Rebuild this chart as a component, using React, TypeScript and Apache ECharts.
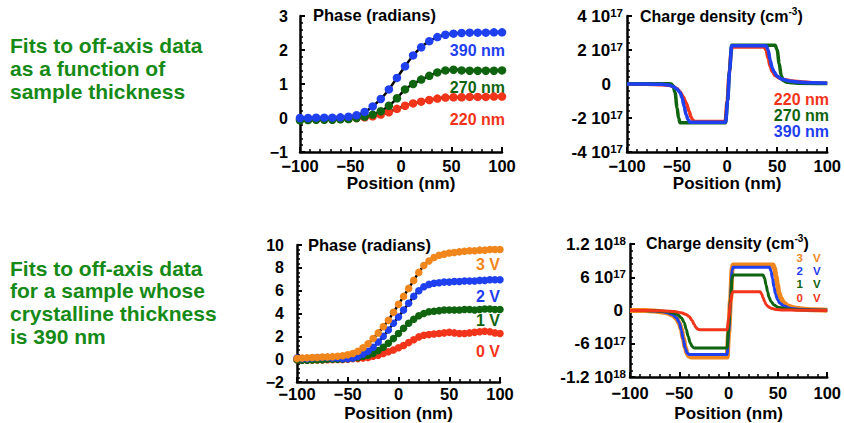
import React, { useEffect, useRef } from 'react';
import * as echarts from 'echarts';

const RED = '#f2341a';
const BLUE = '#1f40f0';
const GREEN = '#0f640f';
const ORANGE = '#f0861c';
const TEXT_GREEN = '#168a16';
const FONT = '"Liberation Sans", Arial, Helvetica, sans-serif';

// Panel 1: phase vs position for three thicknesses
const posX1 = [-100, -92, -84, -76, -68, -60, -52, -44, -36, -28, -20, -12, -4, 4, 12, 20, 28, 36, 44, 52, 60, 68, 76, 84, 92, 100];
const phase390 = [0.0, 0.0, 0.01, 0.01, 0.01, 0.02, 0.04, 0.08, 0.18, 0.34, 0.56, 0.84, 1.18, 1.52, 1.84, 2.08, 2.26, 2.38, 2.45, 2.48, 2.5, 2.51, 2.51, 2.51, 2.52, 2.52];
const phase270 = [-0.07, -0.06, -0.05, -0.05, -0.05, -0.04, -0.03, 0.0, 0.04, 0.1, 0.2, 0.36, 0.58, 0.84, 1.0, 1.13, 1.24, 1.34, 1.4, 1.42, 1.4, 1.39, 1.39, 1.39, 1.39, 1.4];
const phase220 = [-0.03, -0.03, -0.03, -0.03, -0.02, -0.02, -0.01, 0.0, 0.02, 0.05, 0.1, 0.17, 0.27, 0.36, 0.43, 0.48, 0.53, 0.57, 0.6, 0.61, 0.61, 0.62, 0.62, 0.62, 0.63, 0.63];

// Panel 2: charge density (units of 1e17 cm^-3)
const rho220 = [[-100, 0], [-80, -0.02], [-65, -0.05], [-58, -0.08], [-54, -0.15], [-50, -0.28], [-47, -0.45], [-44, -0.75], [-41, -1.1], [-38, -1.6], [-36, -1.95], [-34, -2.15], [-32, -2.2], [-2, -2.2], [0, -1.0], [2, 0.6], [4, 1.9], [5, 2.18], [37, 2.18], [39, 2.0], [41, 1.5], [43, 1.05], [45, 0.75], [48, 0.5], [52, 0.35], [58, 0.25], [65, 0.18], [75, 0.12], [85, 0.08], [100, 0.05]];
const rho270 = [[-100, 0.02], [-80, 0.02], [-60, 0.02], [-56, 0], [-54, -0.1], [-52, -0.5], [-50, -1.4], [-48.5, -2.0], [-47, -2.28], [-1.5, -2.28], [0.5, -1.0], [2.5, 0.8], [4.5, 2.28], [48, 2.28], [50, 2.0], [52, 1.2], [54, 0.5], [56, 0.2], [60, 0.1], [70, 0.05], [100, 0.03]];
const rho390 = [[-100, 0], [-80, 0], [-65, -0.02], [-58, -0.06], [-54, -0.14], [-50, -0.3], [-47, -0.5], [-45, -0.8], [-43, -1.3], [-41, -1.8], [-39, -2.1], [-37, -2.25], [-1.5, -2.25], [0.5, -1.0], [2.5, 0.8], [4.5, 2.25], [39, 2.25], [41, 2.0], [43, 1.4], [45, 0.95], [47, 0.7], [50, 0.45], [55, 0.28], [62, 0.18], [70, 0.12], [85, 0.07], [100, 0.05]];

// Panel 3: phase vs position for four biases
const posX3 = [-100, -95, -90, -85, -80, -75, -70, -65, -60, -55, -50, -45, -40, -35, -30, -25, -20, -15, -10, -5, 0, 5, 10, 15, 20, 25, 30, 35, 40, 45, 50, 55, 60, 65, 70, 75, 80, 85, 90, 95, 100];
const phase3V = [0.05, 0.1, 0.12, 0.15, 0.15, 0.18, 0.2, 0.22, 0.25, 0.3, 0.38, 0.5, 0.7, 1.0, 1.35, 1.8, 2.3, 2.85, 3.4, 4.1, 4.8, 5.5, 6.2, 6.9, 7.6, 8.2, 8.6, 8.9, 9.1, 9.2, 9.3, 9.35, 9.4, 9.45, 9.5, 9.5, 9.55, 9.55, 9.6, 9.6, 9.6];
const phase2V = [0.1, 0.05, 0.05, 0.1, 0.15, 0.15, 0.15, 0.1, 0.1, 0.05, 0.05, 0.1, 0.25, 0.45, 0.7, 1.05, 1.5, 2.0, 2.55, 3.15, 3.7, 4.3, 4.9, 5.5, 6.0, 6.35, 6.55, 6.65, 6.7, 6.75, 6.75, 6.8, 6.8, 6.85, 6.85, 6.85, 6.9, 6.9, 6.95, 6.95, 6.95];
const phase1V = [-0.05, -0.1, -0.1, -0.08, -0.05, -0.05, 0, 0, 0, 0.02, 0.05, 0.1, 0.15, 0.25, 0.35, 0.5, 0.75, 1.05, 1.4, 1.8, 2.25, 2.7, 3.15, 3.5, 3.8, 4.0, 4.15, 4.2, 4.25, 4.3, 4.3, 4.3, 4.3, 4.35, 4.35, 4.3, 4.35, 4.4, 4.4, 4.35, 4.35];
const phase0V = [-0.05, -0.1, -0.1, -0.08, -0.08, -0.06, -0.05, -0.04, -0.03, -0.02, 0.0, 0.05, 0.05, 0.1, 0.15, 0.25, 0.35, 0.5, 0.65, 0.8, 1.0, 1.2, 1.45, 1.7, 1.95, 2.1, 2.15, 2.2, 2.25, 2.3, 2.35, 2.3, 2.25, 2.25, 2.3, 2.35, 2.4, 2.45, 2.4, 2.3, 2.25];

// Panel 4: charge density (units of 1e17 cm^-3)
const rho3V = [[-100, 0], [-85, 0], [-75, -0.1], [-68, -0.25], [-62, -0.45], [-57, -0.8], [-53, -1.4], [-50, -2.3], [-48, -3.4], [-46, -5.0], [-44, -6.6], [-42, -7.8], [-40, -8.3], [-38, -8.4], [-1.5, -8.4], [0, -4], [2, 2], [3.5, 7.5], [4.5, 8.2], [45, 8.2], [46.5, 7.6], [48, 6.2], [49.5, 4.6], [51, 3.2], [53, 2.2], [56, 1.4], [60, 0.8], [67, 0.45], [75, 0.25], [85, 0.12], [100, 0.05]];
const rho2V = [[-100, 0], [-85, 0], [-75, -0.08], [-68, -0.2], [-62, -0.4], [-57, -0.7], [-53, -1.3], [-50, -2.2], [-48, -3.5], [-46, -5.2], [-44, -6.8], [-42, -7.7], [-40, -7.95], [-1.5, -7.95], [0, -4], [2, 2], [3.5, 7.2], [4.5, 7.8], [41.5, 7.8], [43, 7.1], [44.5, 5.8], [46, 4.2], [47.5, 3.0], [49.5, 2.0], [52, 1.3], [56, 0.8], [62, 0.4], [70, 0.22], [85, 0.1], [100, 0.05]];
const rho1V = [[-100, 0], [-85, 0], [-75, -0.05], [-65, -0.15], [-58, -0.35], [-52, -0.7], [-48, -1.3], [-45, -2.2], [-43, -3.4], [-41, -4.7], [-39, -5.8], [-37, -6.5], [-35, -6.75], [-1.5, -6.75], [0, -3], [2, 2], [3.5, 5.8], [4.5, 6.4], [35, 6.4], [36.5, 5.8], [38, 4.6], [39.5, 3.4], [41, 2.4], [43, 1.6], [46, 1.0], [50, 0.6], [57, 0.3], [67, 0.15], [80, 0.07], [100, 0.03]];
const rho0V = [[-100, 0], [-85, 0], [-75, -0.03], [-65, -0.08], [-55, -0.2], [-48, -0.4], [-43, -0.7], [-40, -1.1], [-37, -1.8], [-35, -2.5], [-33, -3.1], [-31, -3.4], [-29, -3.47], [-1.5, -3.47], [0, -1.5], [2, 1.5], [3.5, 3.1], [4.5, 3.4], [32, 3.4], [33.5, 3.0], [35, 2.3], [36.5, 1.6], [38, 1.1], [40, 0.7], [43, 0.4], [48, 0.2], [55, 0.1], [70, 0.05], [100, 0.02]];

// Tick labels for the charge axes (base, superscript)
const rhoTopTicks = [-4, -2, 0, 2, 4];
const rhoTopLabels = [['-4 10', '17'], ['-2 10', '17'], ['0', ''], ['2 10', '17'], ['4 10', '17']];
const rhoBotTicks = [-12, -6, 0, 6, 12];
const rhoBotLabels = [['-1.2 10', '18'], ['-6 10', '17'], ['0', ''], ['6 10', '17'], ['1.2 10', '18']];

const thicknessLabels = ['390 nm', '270 nm', '220 nm'];
const biasValues = ['3', '2', '1', '0'];
const biasUnit = 'V';

const zip = (xs: number[], ys: number[]) => xs.map((x, i) => [x, ys[i]]);

const baseText = { fontFamily: FONT, fontWeight: 'bold' as const, color: '#000' };
const minus = (v: number) => String(v).replace('-', '\u2212');

function xAxisCfg(gridIndex: number, labelMargin: number, nameGap: number) {
  return {
    gridIndex,
    type: 'value',
    min: -100,
    max: 100,
    interval: 50,
    name: 'Position (nm)',
    nameLocation: 'middle',
    nameGap,
    nameTextStyle: { ...baseText, fontSize: 17 },
    axisLine: { show: true, onZero: false, lineStyle: { color: '#000', width: 2.5 } },
    axisTick: { show: true, inside: true, length: 5, lineStyle: { color: '#000', width: 2 } },
    minorTick: { show: true, splitNumber: 5, length: 3, lineStyle: { color: '#000', width: 1.5 } },
    splitLine: { show: false },
    axisLabel: { ...baseText, fontSize: 16.5, lineHeight: 12, margin: labelMargin, formatter: minus },
  };
}

function yAxisCfg(gridIndex: number, min: number, max: number, interval: number, margin: number, formatter?: any, rich?: any) {
  return {
    gridIndex,
    type: 'value',
    min,
    max,
    interval,
    axisLine: { show: true, onZero: false, lineStyle: { color: '#000', width: 2.5 } },
    axisTick: { show: true, inside: true, length: 5, lineStyle: { color: '#000', width: 2 } },
    minorTick: { show: true, splitNumber: 5, length: 3, lineStyle: { color: '#000', width: 1.5 } },
    splitLine: { show: false },
    axisLabel: { ...baseText, fontSize: 16, lineHeight: 12, margin, formatter, rich },
  };
}

const supRich = (padZero: number) => ({
  b: { fontFamily: FONT, fontWeight: 'bold', fontSize: 17, color: '#000', lineHeight: 18 },
  s: { fontFamily: FONT, fontWeight: 'bold', fontSize: 11.5, color: '#000', verticalAlign: 'top', lineHeight: 12 },
  z: { fontFamily: FONT, fontWeight: 'bold', fontSize: 17, color: '#000', lineHeight: 18, padding: [0, padZero, 0, 0] },
});

const chargeFormatter = (ticks: number[], labels: string[][]) => (v: number) => {
  const i = ticks.findIndex((t) => Math.abs(t - v) < 1e-6);
  if (i < 0) return '';
  const [b, s] = labels[i];
  if (!s) return `{z|${b}}`;
  return `{b|${b}}{s|${s}}`;
};

function phaseSeries(name: string, xi: number, yi: number, xs: number[], ys: number[], color: string, size: number) {
  return {
    name,
    type: 'line',
    xAxisIndex: xi,
    yAxisIndex: yi,
    data: zip(xs, ys),
    symbol: 'circle',
    symbolSize: size,
    showSymbol: true,
    itemStyle: { color, borderWidth: 0 },
    lineStyle: { color: '#000', width: 2.5 },
    smooth: 0.3,
    z: 3,
  };
}

function chargeSeries(name: string, xi: number, yi: number, data: number[][], color: string, width: number) {
  return {
    name,
    type: 'line',
    xAxisIndex: xi,
    yAxisIndex: yi,
    data,
    symbol: 'none',
    showSymbol: false,
    lineStyle: { color, width },
    smooth: 0.3,
    smoothMonotone: 'x',
    z: 3,
  };
}

function label(text: string, x: number, y: number, color: string, align = 'right', size = 16) {
  return {
    type: 'text',
    x,
    y,
    silent: true,
    style: {
      text,
      fill: color,
      font: `bold ${size}px ${FONT}`,
      textAlign: align,
      align,
      textVerticalAlign: 'middle',
      verticalAlign: 'middle',
    },
  };
}

const richTitle = (left: number, top: number) => ({
  text: '{a|Charge density (cm}{s|-3}{a|)}',
  left,
  top,
  padding: 0,
  textStyle: {
    rich: {
      a: { fontFamily: FONT, fontWeight: 'bold', fontSize: 16, color: '#000', lineHeight: 20 },
      s: { fontFamily: FONT, fontWeight: 'bold', fontSize: 10, color: '#000', verticalAlign: 'top', lineHeight: 12 },
    },
  },
});

export default function App() {
  const ref = useRef<HTMLDivElement>(null);
  useEffect(() => {
    if (!ref.current) return;
    const chart = echarts.init(ref.current, undefined, { renderer: 'svg' });
    const biasY4 = [258, 271, 284, 298];
    const biasColors = [ORANGE, BLUE, GREEN, RED];
    const option: any = {
      animation: false,
      backgroundColor: '#fff',
      title: [
        {
          text: 'Fits to off-axis data\nas a function of\nsample thickness',
          left: 10,
          top: 34,
          padding: 0,
          textStyle: { fontFamily: FONT, fontWeight: 'bold', fontSize: 21, lineHeight: 23, color: TEXT_GREEN },
        },
        {
          text: 'Fits to off-axis data\nfor a sample whose\ncrystalline thickness\nis 390 nm',
          left: 10,
          top: 257,
          padding: 0,
          textStyle: { fontFamily: FONT, fontWeight: 'bold', fontSize: 21, lineHeight: 22.6, color: TEXT_GREEN },
        },
        {
          text: 'Phase (radians)',
          left: 313,
          top: 6,
          padding: 0,
          textStyle: { ...baseText, fontSize: 16.5, lineHeight: 18 },
        },
        {
          text: 'Phase (radians)',
          left: 308,
          top: 236,
          padding: 0,
          textStyle: { ...baseText, fontSize: 16.5, lineHeight: 18 },
        },
        richTitle(640, 6),
        richTitle(646, 233),
      ],
      grid: [
        { left: 300, top: 16, width: 202, height: 136 },
        { left: 627, top: 16, width: 203, height: 136 },
        { left: 297, top: 245, width: 203, height: 137 },
        { left: 630, top: 244, width: 201, height: 133 },
      ],
      xAxis: [
        xAxisCfg(0, 8, 23),
        xAxisCfg(1, 8, 23),
        xAxisCfg(2, 6, 23),
        xAxisCfg(3, 10, 28),
      ],
      yAxis: [
        yAxisCfg(0, -1, 3, 1, 12, minus),
        yAxisCfg(1, -4, 4, 2, 4, chargeFormatter(rhoTopTicks, rhoTopLabels), supRich(12)),
        yAxisCfg(2, -2, 10, 2, 13, minus),
        yAxisCfg(3, -12, 12, 6, 4, chargeFormatter(rhoBotTicks, rhoBotLabels), supRich(3)),
      ],
      series: [
        phaseSeries('220 nm', 0, 0, posX1, phase220, RED, 8.5),
        phaseSeries('270 nm', 0, 0, posX1, phase270, GREEN, 8.5),
        phaseSeries('390 nm', 0, 0, posX1, phase390, BLUE, 8.5),
        chargeSeries('220 nm', 1, 1, rho220, RED, 3.5),
        chargeSeries('270 nm', 1, 1, rho270, GREEN, 3.5),
        chargeSeries('390 nm', 1, 1, rho390, BLUE, 3.5),
        phaseSeries('0 V', 2, 2, posX3, phase0V, RED, 7.5),
        phaseSeries('1 V', 2, 2, posX3, phase1V, GREEN, 7.5),
        phaseSeries('2 V', 2, 2, posX3, phase2V, BLUE, 7.5),
        phaseSeries('3 V', 2, 2, posX3, phase3V, ORANGE, 7.5),
        chargeSeries('3 V', 3, 3, rho3V, ORANGE, 5),
        chargeSeries('2 V', 3, 3, rho2V, BLUE, 3),
        chargeSeries('1 V', 3, 3, rho1V, GREEN, 3),
        chargeSeries('0 V', 3, 3, rho0V, RED, 3),
      ],
      graphic: [
        label(thicknessLabels[0], 505, 50, BLUE),
        label(thicknessLabels[1], 505, 87, GREEN),
        label(thicknessLabels[2], 505, 119, RED),
        label(thicknessLabels[2], 829, 99, RED),
        label(thicknessLabels[1], 829, 115, GREEN),
        label(thicknessLabels[0], 829, 131, BLUE),
        label(`${biasValues[0]} ${biasUnit}`, 500, 264, ORANGE),
        label(`${biasValues[1]} ${biasUnit}`, 500, 296, BLUE),
        label(`${biasValues[2]} ${biasUnit}`, 500, 320, GREEN),
        label(`${biasValues[3]} ${biasUnit}`, 500, 351, RED),
        ...biasValues.map((v, i) => label(v, 803, biasY4[i], biasColors[i], 'right', 11.5)),
        ...biasValues.map((_, i) => label(biasUnit, 813, biasY4[i], biasColors[i], 'left', 11.5)),
      ],
    };
    chart.setOption(option);
    return () => chart.dispose();
  }, []);
  return <div ref={ref} style={{ position: 'absolute', left: 0, top: 0, width: 844, height: 423 }} />;
}
